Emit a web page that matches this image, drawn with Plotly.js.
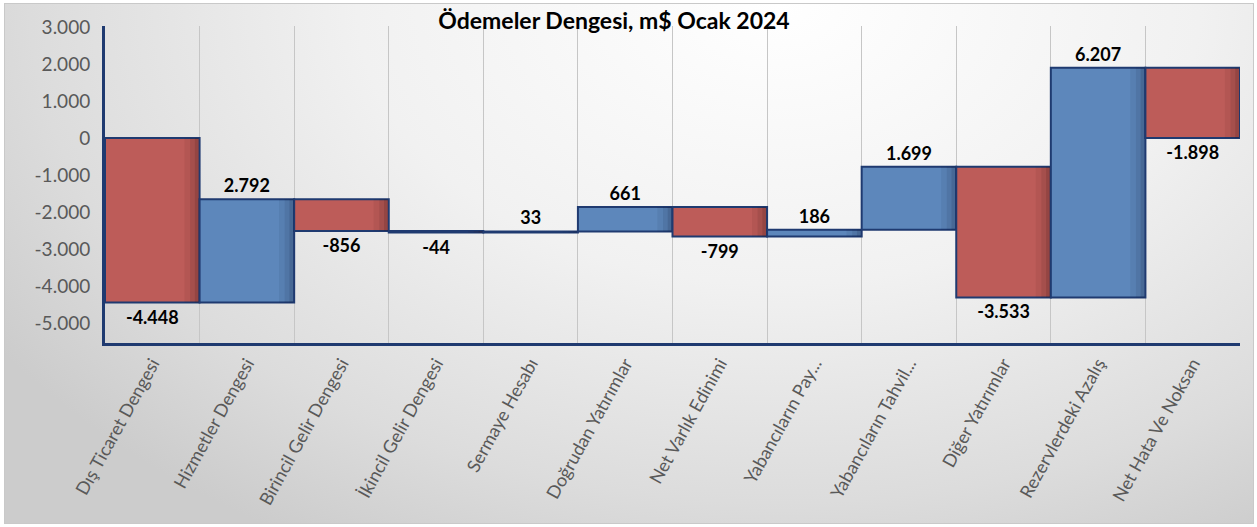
<!DOCTYPE html>
<html>
<head>
<meta charset="utf-8">
<script src="https://cdn.plot.ly/plotly-3.0.1.min.js"></script>
<style>
  html, body { margin: 0; padding: 0; background: #ffffff; }
  #frame {
    position: absolute; left: 4px; top: 3px;
    width: 1248px; height: 519px;
    border: 1px solid #c9c9c9;
    background: radial-gradient(ellipse 75% 120% at 62% 0%, #ffffff 0%, #f1f1f1 45%, #dcdcdc 80%, #cccccc 100%);
  }
  #chart { width: 1248px; height: 519px; }
</style>
</head>
<body>
<div id="frame"><div id="chart"></div></div>
<script>
// kalemler (milyon $)
const categories = [
  'Dış Ticaret Dengesi', 'Hizmetler Dengesi', 'Birincil Gelir Dengesi', 'İkincil Gelir Dengesi',
  'Sermaye Hesabı', 'Doğrudan Yatırımlar', 'Net Varlık Edinimi', 'Yabancıların Pay...',
  'Yabancıların Tahvil...', 'Diğer Yatırımlar', 'Rezervlerdeki Azalış', 'Net Hata Ve Noksan'
];
const values = [-4448, 2792, -856, -44, 33, 661, -799, 186, 1699, -3533, 6207, -1898];
const yTicks = [3000, 2000, 1000, 0, -1000, -2000, -3000, -4000, -5000];

const RED = '#bd5c59';
const BLUE = '#5d87bb';
const NAVY = '#1f3a70';
const FONT = 'Lato, "Open Sans", sans-serif';

// 1.234 style, plain hyphen for minus
function fmt(n) {
  const s = Math.abs(n).toString().replace(/\B(?=(\d{3})+(?!\d))/g, '.');
  return (n < 0 ? '-' : '') + s;
}

const measure = values.map(() => 'relative');

const main = {
  type: 'waterfall',
  x: categories,
  y: values,
  measure: measure,
  width: 1,
  text: values.map(fmt),
  textposition: 'outside',
  textfont: { family: FONT, size: 18, color: '#000000', weight: 'bold' },
  cliponaxis: false,
  increasing: { marker: { color: BLUE, line: { color: NAVY, width: 2 } } },
  decreasing: { marker: { color: RED, line: { color: NAVY, width: 2 } } },
  connector: { visible: false },
  hoverinfo: 'x+y'
};

// dark band on the right side of each bar (shadow)
function shade(offset, width, alpha) {
  return {
    type: 'waterfall',
    x: categories,
    y: values,
    measure: measure,
    width: width,
    offset: offset,
    increasing: { marker: { color: 'rgba(20,30,60,' + alpha + ')', line: { width: 0 } } },
    decreasing: { marker: { color: 'rgba(50,15,15,' + alpha + ')', line: { width: 0 } } },
    connector: { visible: false },
    hoverinfo: 'skip',
    textinfo: 'none'
  };
}

const traces = [
  main,
  shade(0.34, 0.15, 0.07),
  shade(0.40, 0.09, 0.10),
  shade(0.45, 0.04, 0.14)
];

const layout = {
  width: 1248,
  height: 519,
  paper_bgcolor: 'rgba(0,0,0,0)',
  plot_bgcolor: 'rgba(0,0,0,0)',
  waterfallmode: 'overlay',
  showlegend: false,
  margin: { l: 100, r: 13, t: 22, b: 180 },
  title: {
    text: '<b>Ödemeler Dengesi, m$ Ocak 2024</b>',
    font: { family: FONT, size: 23, color: '#000000' },
    x: 0.488, xanchor: 'center', y: 0.982, yanchor: 'top'
  },
  xaxis: {
    type: 'category',
    tickson: 'boundaries',
    showgrid: true,
    gridcolor: '#c6c6c6',
    gridwidth: 1,
    ticks: '',
    tickangle: -61,
    tickfont: { family: FONT, size: 18, color: '#595959' },
    showline: true,
    linecolor: NAVY,
    linewidth: 3,
    range: [-0.5, 11.5]
  },
  yaxis: {
    range: [-5540, 3030],
    tickvals: yTicks,
    ticktext: yTicks.map(fmt),
    showgrid: false,
    zeroline: false,
    showline: true,
    linecolor: NAVY,
    linewidth: 3,
    ticks: '',
    ticklabelstandoff: 8,
    tickfont: { family: FONT, size: 19, color: '#595959' }
  },
  font: { family: FONT }
};

Plotly.newPlot('chart', traces, layout, { displayModeBar: false, staticPlot: true });
</script>
</body>
</html>
